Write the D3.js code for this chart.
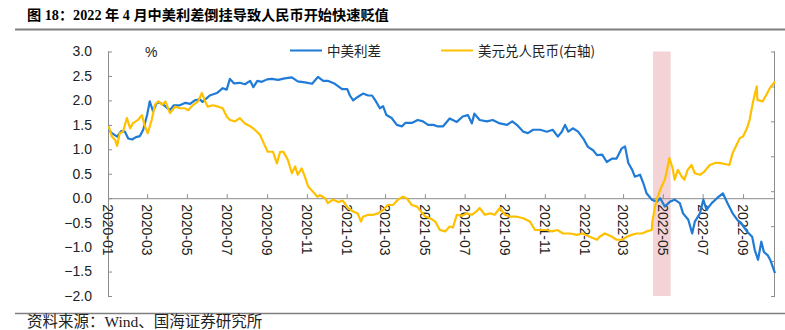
<!DOCTYPE html>
<html><head><meta charset="utf-8">
<script src="https://cdn.jsdelivr.net/npm/d3@7"></script>
<style>body{margin:0;background:#fff}svg{display:block}</style>
</head><body>
<svg id="c" width="785" height="330"></svg>
<script>
const titleText = "图 18：2022 年 4 月中美利差倒挂导致人民币开始快速贬值";
const sourceText = "资料来源：Wind、国海证券研究所";
const seriesNames = ["中美利差", "美元兑人民币(右轴)"];
const unitLabel = "%";

const spreadDates = ["2020-01-02","2020-01-07","2020-01-15","2020-01-21","2020-01-27","2020-02-01","2020-02-07","2020-02-13","2020-02-19","2020-02-24","2020-03-01","2020-03-05","2020-03-10","2020-03-16","2020-03-21","2020-03-27","2020-04-05","2020-04-11","2020-04-20","2020-04-29","2020-05-06","2020-05-13","2020-05-21","2020-05-25","2020-06-05","2020-06-16","2020-06-25","2020-07-01","2020-07-06","2020-07-12","2020-07-21","2020-07-29","2020-08-06","2020-08-11","2020-08-17","2020-08-24","2020-09-01","2020-09-08","2020-09-18","2020-09-28","2020-10-09","2020-10-18","2020-10-29","2020-11-09","2020-11-18","2020-11-26","2020-12-03","2020-12-14","2020-12-25","2021-01-02","2021-01-06","2021-01-11","2021-01-18","2021-01-26","2021-02-03","2021-02-09","2021-02-14","2021-02-21","2021-02-26","2021-03-03","2021-03-11","2021-03-19","2021-03-27","2021-04-01","2021-04-11","2021-04-20","2021-04-28","2021-05-06","2021-05-14","2021-05-20","2021-05-29","2021-06-08","2021-06-19","2021-06-28","2021-07-06","2021-07-12","2021-07-16","2021-07-24","2021-08-04","2021-08-13","2021-08-24","2021-09-04","2021-09-12","2021-09-19","2021-09-29","2021-10-06","2021-10-14","2021-10-25","2021-11-04","2021-11-13","2021-11-21","2021-11-27","2021-12-02","2021-12-07","2021-12-14","2021-12-22","2021-12-30","2022-01-06","2022-01-14","2022-01-20","2022-01-28","2022-02-04","2022-02-12","2022-02-19","2022-02-27","2022-03-04","2022-03-09","2022-03-15","2022-03-19","2022-03-27","2022-04-01","2022-04-06","2022-04-14","2022-04-22","2022-04-27","2022-05-04","2022-05-12","2022-05-19","2022-05-27","2022-06-01","2022-06-09","2022-06-15","2022-06-19","2022-06-27","2022-07-02","2022-07-07","2022-07-15","2022-07-23","2022-08-01","2022-08-08","2022-08-16","2022-08-23","2022-08-31","2022-09-07","2022-09-15","2022-09-19","2022-09-24","2022-09-29","2022-10-03","2022-10-09","2022-10-13","2022-10-20"];
const spreadValues = [1.40,1.33,1.26,1.37,1.36,1.22,1.20,1.25,1.27,1.40,1.70,1.98,1.78,1.95,1.95,1.90,1.80,1.90,1.90,1.95,1.93,2.00,2.02,1.97,2.10,2.15,2.25,2.22,2.44,2.35,2.36,2.33,2.40,2.27,2.40,2.38,2.43,2.44,2.42,2.45,2.47,2.39,2.37,2.34,2.48,2.40,2.40,2.34,2.23,2.23,2.10,2.00,2.07,2.14,2.10,2.10,2.00,1.84,1.88,1.70,1.64,1.50,1.47,1.54,1.54,1.60,1.57,1.50,1.50,1.47,1.47,1.63,1.56,1.67,1.70,1.53,1.73,1.60,1.57,1.60,1.53,1.50,1.57,1.50,1.36,1.33,1.40,1.40,1.36,1.40,1.26,1.36,1.50,1.36,1.43,1.36,1.22,1.05,0.98,0.88,0.89,0.74,0.81,0.81,1.02,1.06,0.72,0.58,0.44,0.48,0.31,0.10,-0.03,-0.07,0.00,-0.17,-0.07,-0.03,-0.10,-0.31,-0.44,-0.72,-0.48,-0.31,-0.03,-0.24,-0.10,0.00,0.10,-0.10,-0.31,-0.44,-0.55,-0.68,-0.79,-1.06,-1.26,-0.89,-1.10,-1.17,-1.27,-1.53];

const fxDates = ["2020-01-02","2020-01-07","2020-01-12","2020-01-15","2020-01-19","2020-01-24","2020-01-30","2020-02-04","2020-02-08","2020-02-16","2020-02-22","2020-02-26","2020-03-02","2020-03-08","2020-03-13","2020-03-18","2020-03-24","2020-03-29","2020-04-05","2020-04-13","2020-04-20","2020-04-28","2020-05-03","2020-05-10","2020-05-18","2020-05-24","2020-05-29","2020-06-02","2020-06-10","2020-06-18","2020-06-25","2020-07-01","2020-07-06","2020-07-14","2020-07-21","2020-07-29","2020-08-06","2020-08-13","2020-08-21","2020-08-29","2020-09-02","2020-09-10","2020-09-16","2020-09-21","2020-09-26","2020-10-03","2020-10-09","2020-10-14","2020-10-18","2020-10-24","2020-10-29","2020-11-03","2020-11-10","2020-11-17","2020-11-21","2020-11-29","2020-12-03","2020-12-11","2020-12-19","2020-12-26","2021-01-03","2021-01-11","2021-01-18","2021-01-23","2021-01-26","2021-02-03","2021-02-11","2021-02-18","2021-02-26","2021-03-05","2021-03-13","2021-03-21","2021-03-28","2021-04-03","2021-04-11","2021-04-19","2021-04-23","2021-05-02","2021-05-09","2021-05-17","2021-05-24","2021-06-01","2021-06-08","2021-06-13","2021-06-19","2021-06-27","2021-07-04","2021-07-12","2021-07-19","2021-07-24","2021-08-01","2021-08-09","2021-08-16","2021-08-24","2021-09-01","2021-09-09","2021-09-19","2021-09-29","2021-10-09","2021-10-17","2021-10-25","2021-11-04","2021-11-12","2021-11-20","2021-11-29","2021-12-10","2021-12-20","2021-12-29","2022-01-09","2022-01-20","2022-01-24","2022-02-01","2022-02-12","2022-02-19","2022-02-27","2022-03-07","2022-03-14","2022-03-22","2022-03-30","2022-04-06","2022-04-14","2022-04-15","2022-04-19","2022-04-23","2022-04-29","2022-05-04","2022-05-07","2022-05-11","2022-05-16","2022-05-19","2022-05-24","2022-05-30","2022-06-03","2022-06-08","2022-06-14","2022-06-19","2022-06-27","2022-07-04","2022-07-12","2022-07-20","2022-07-27","2022-08-04","2022-08-11","2022-08-16","2022-08-22","2022-08-27","2022-09-01","2022-09-07","2022-09-11","2022-09-16","2022-09-22","2022-09-23","2022-10-01","2022-10-07","2022-10-12","2022-10-20"];
const fxValues = [6.972,6.913,6.893,6.860,6.932,6.941,7.019,6.960,6.988,7.008,7.036,6.980,6.932,7.008,7.095,7.114,7.095,7.114,7.047,7.084,7.075,7.075,7.064,7.092,7.114,7.162,7.114,7.084,7.092,7.084,7.075,7.028,7.008,7.000,7.019,6.988,6.972,6.952,6.924,6.857,6.826,6.826,6.759,6.826,6.826,6.778,6.703,6.742,6.694,6.731,6.683,6.627,6.599,6.568,6.577,6.560,6.532,6.552,6.538,6.546,6.504,6.484,6.473,6.426,6.454,6.465,6.465,6.473,6.493,6.521,6.521,6.552,6.568,6.560,6.521,6.512,6.493,6.454,6.445,6.426,6.378,6.370,6.398,6.392,6.465,6.459,6.473,6.465,6.484,6.504,6.465,6.473,6.465,6.504,6.465,6.454,6.454,6.445,6.426,6.378,6.378,6.378,6.370,6.378,6.358,6.358,6.350,6.358,6.339,6.322,6.339,6.358,6.339,6.322,6.322,6.339,6.350,6.358,6.358,6.370,6.378,6.426,6.512,6.568,6.627,6.666,6.714,6.790,6.731,6.666,6.722,6.683,6.666,6.722,6.750,6.703,6.694,6.714,6.750,6.762,6.762,6.756,6.750,6.818,6.865,6.904,6.913,6.960,7.008,7.106,7.201,7.123,7.114,7.154,7.190,7.228];

const leftTicks = [3.0,2.5,2.0,1.5,1.0,0.5,0.0,-0.5,-1.0,-1.5,-2.0];
const rightTicks = [6.0,6.2,6.4,6.6,6.8,7.0,7.2,7.4];
const xTickLabels = ["2020-01","2020-03","2020-05","2020-07","2020-09","2020-11","2021-01","2021-03","2021-05","2021-07","2021-09","2021-11","2022-01","2022-03","2022-05","2022-07","2022-09"];
const bandRange = ["2022-04-16","2022-05-13"];
const xDomain = ["2020-01-01","2022-10-20"];

const parse = d3.timeParse("%Y-%m-%d");
const parseM = d3.timeParse("%Y-%m");
const svg = d3.select("#c");

const x = d3.scaleTime().domain(xDomain.map(parse)).range([108, 775]);
const yL = d3.scaleLinear().domain([-2, 3]).range([296, 51.5]);
const yR = d3.scaleLinear().domain([6.0, 7.4]).range([296, 51.5]);

const axisColor = "#8c8c8c";
const blue = "#1f7bd6", yellow = "#ffc000";

// title
svg.append("text").attr("x", 27).attr("y", 20)
  .attr("font-family", "'Liberation Serif','Noto Sans CJK SC',serif")
  .attr("font-weight", "bold").attr("font-size", 14.2).attr("fill", "#000")
  .text(titleText);
svg.append("line").attr("x1", 15).attr("x2", 785).attr("y1", 29.5).attr("y2", 29.5)
  .attr("stroke", "#7f7f7f").attr("stroke-width", 2);

// band
svg.append("rect")
  .attr("x", x(parse(bandRange[0]))).attr("width", x(parse(bandRange[1])) - x(parse(bandRange[0])))
  .attr("y", yL(3)).attr("height", yL(-2) - yL(3))
  .attr("fill", "#f3d3d5");

// left axis
const gL = svg.append("g").attr("transform", "translate(108,0)")
  .call(d3.axisRight(yL).tickValues(leftTicks).tickSize(4).tickFormat(""));
gL.selectAll("path,line").attr("stroke", axisColor);
gL.select(".domain").attr("d", `M0.5,${yL(3)}V${yL(-2)}`);
svg.append("g").selectAll("text").data(leftTicks).join("text")
  .attr("x", 92).attr("y", d => yL(d)).attr("dy", "0.35em")
  .attr("text-anchor", "end")
  .attr("font-family", "'Liberation Sans',Arial,sans-serif").attr("font-size", 14).attr("fill", "#222")
  .text(d => d3.format(".1f")(d));

// right axis
const gR = svg.append("g").attr("transform", "translate(775,0)")
  .call(d3.axisLeft(yR).tickValues(rightTicks).tickSize(4).tickFormat(""));
gR.selectAll("path,line").attr("stroke", axisColor);
gR.select(".domain").attr("d", `M-0.5,${yR(7.4)}V${yR(6.0)}`);

// x axis at zero
const gX = svg.append("g").attr("transform", `translate(0,${yL(0)})`)
  .call(d3.axisTop(x).tickValues(xTickLabels.map(parseM)).tickSize(4).tickFormat(""));
gX.selectAll("path,line").attr("stroke", axisColor);
gX.select(".domain").attr("d", `M108,0.5H775`);
svg.append("g").selectAll("text").data(xTickLabels).join("text")
  .attr("transform", d => `translate(${x(parseM(d))},${yL(0) + 6}) rotate(90)`)
  .attr("dy", "0.35em")
  .attr("font-family", "'Liberation Sans',Arial,sans-serif").attr("font-size", 14).attr("fill", "#222")
  .text(d => d);

// unit
svg.append("text").attr("x", 145).attr("y", 57)
  .attr("font-family", "'Liberation Sans',Arial,sans-serif").attr("font-size", 14).attr("fill", "#222")
  .text(unitLabel);

// lines
const spread = spreadDates.map((d, i) => ({date: parse(d), v: spreadValues[i]}));
const fx = fxDates.map((d, i) => ({date: parse(d), v: fxValues[i]}));
svg.append("path").datum(spread)
  .attr("d", d3.line().x(d => x(d.date)).y(d => yL(d.v)))
  .attr("fill", "none").attr("stroke", blue).attr("stroke-width", 2.2).attr("stroke-linejoin", "round");
svg.append("path").datum(fx)
  .attr("d", d3.line().x(d => x(d.date)).y(d => yR(d.v)))
  .attr("fill", "none").attr("stroke", yellow).attr("stroke-width", 2.2).attr("stroke-linejoin", "round");

// legend
const legend = [
  {name: seriesNames[0], color: blue, x: 290},
  {name: seriesNames[1], color: yellow, x: 441}
];
const lg = svg.append("g").selectAll("g").data(legend).join("g");
lg.append("line").attr("x1", d => d.x).attr("x2", d => d.x + 32).attr("y1", 50.5).attr("y2", 50.5)
  .attr("stroke", d => d.color).attr("stroke-width", 2);
lg.append("text").attr("x", d => d.x + 37).attr("y", 51).attr("dy", "0.35em")
  .attr("font-family", "'Noto Sans CJK SC',sans-serif").attr("font-size", 13.5).attr("fill", "#222")
  .text(d => d.name);

// source
svg.append("line").attr("x1", 15).attr("x2", 785).attr("y1", 313.5).attr("y2", 313.5)
  .attr("stroke", "#7f7f7f").attr("stroke-width", 1.5);
svg.append("text").attr("x", 27).attr("y", 327)
  .attr("font-family", "'Liberation Serif','Noto Sans CJK SC',serif")
  .attr("font-size", 15.5).attr("fill", "#222")
  .text(sourceText);
</script>
</body></html>
